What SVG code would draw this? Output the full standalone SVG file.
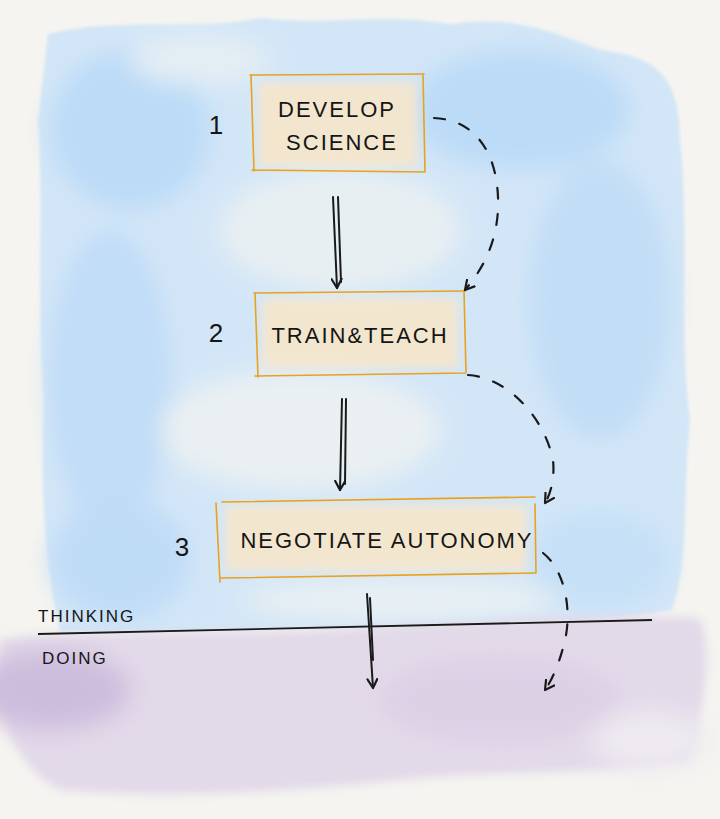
<svg xmlns="http://www.w3.org/2000/svg" width="720" height="819" viewBox="0 0 720 819">
<defs>
<filter id="soft" x="-20%" y="-20%" width="140%" height="140%"><feGaussianBlur stdDeviation="12"/></filter>
<filter id="soft2" x="-20%" y="-20%" width="140%" height="140%"><feGaussianBlur stdDeviation="5"/></filter>
<filter id="edge" x="-5%" y="-5%" width="110%" height="110%"><feGaussianBlur stdDeviation="1.5"/></filter>
<marker id="ah" viewBox="0 0 12 12" refX="10" refY="6" markerWidth="12" markerHeight="12" markerUnits="userSpaceOnUse" orient="auto">
<path d="M1,1 L10,6 L1,11" fill="none" stroke="#1a1a1a" stroke-width="2.2" stroke-linecap="round" stroke-linejoin="round"/>
</marker>
<style>
.box{fill:none;stroke:#e8a21e;stroke-width:1.6;stroke-linecap:round}
.wash{fill:#fbe6c6;opacity:.8}
.lbl{font-family:"Liberation Sans","DejaVu Sans",sans-serif;fill:#151515;font-size:22px;letter-spacing:2px}
.num{font-family:"Liberation Sans","DejaVu Sans",sans-serif;fill:#151515;font-size:26px;font-weight:300}
.ink{fill:none;stroke:#1a1a1a;stroke-width:2;stroke-linecap:round}
.dash{fill:none;stroke:#1a1a1a;stroke-width:2.2;stroke-linecap:round;stroke-dasharray:11 15}
.side{font-family:"Liberation Sans","DejaVu Sans",sans-serif;fill:#151515;font-size:17px;letter-spacing:2px}
</style>
</defs>
<rect width="720" height="819" fill="#f5f4f0"/>
<g id="watercolor">
<path d="M48,34 C120,16 200,32 260,18 C330,26 380,12 450,24 C520,14 560,36 600,50 C650,56 680,70 680,140 C690,230 678,330 690,420 C682,500 690,560 672,610 C600,624 500,618 420,630 C300,626 200,634 60,632 C44,560 40,480 44,400 C36,300 44,200 38,120 Z" fill="#d3e6f7" filter="url(#edge)"/>
<g filter="url(#soft)">
<ellipse cx="130" cy="130" rx="80" ry="80" fill="#bcdbf7"/>
<ellipse cx="520" cy="110" rx="110" ry="60" fill="#bcdbf7"/>
<ellipse cx="600" cy="300" rx="70" ry="140" fill="#c1ddf6"/>
<ellipse cx="110" cy="380" rx="60" ry="150" fill="#c0dcf7"/>
<ellipse cx="120" cy="560" rx="70" ry="60" fill="#bfdcf7"/>
<ellipse cx="600" cy="560" rx="70" ry="50" fill="#c6e0f7"/>
<ellipse cx="340" cy="230" rx="120" ry="60" fill="#e8eff2"/>
<ellipse cx="300" cy="430" rx="140" ry="60" fill="#eaf0f2"/>
<ellipse cx="200" cy="60" rx="70" ry="25" fill="#e4eef4"/>
<ellipse cx="400" cy="600" rx="160" ry="20" fill="#e9f0f3"/>
</g>
<path d="M0,640 C120,628 250,636 360,628 C460,624 560,612 700,618 C715,660 700,720 690,760 C600,776 500,770 400,780 C300,790 180,800 60,790 C20,770 0,720 0,700 Z" fill="#e2d9e9" filter="url(#soft2)"/>
<g filter="url(#soft)">
<ellipse cx="50" cy="690" rx="80" ry="40" fill="#cdbddd"/>
<ellipse cx="500" cy="700" rx="120" ry="40" fill="#dcd0e5"/>
<ellipse cx="650" cy="740" rx="60" ry="30" fill="#eeeaf0"/>
</g>
</g>
<g id="node1">
<rect x="258" y="82" width="160" height="85" class="wash" filter="url(#soft2)"/>
<path class="box" d="M250,75 L424,74 M251,75 L254,171 M423,74 L425,172 M252,170 L425,172"/>
<text x="337" y="117" class="lbl" text-anchor="middle">DEVELOP</text>
<text x="342" y="150" class="lbl" text-anchor="middle">SCIENCE</text>
<text x="216" y="134" class="num" text-anchor="middle">1</text>
</g>
<g id="node2">
<rect x="262" y="298" width="196" height="70" class="wash" filter="url(#soft2)"/>
<path class="box" d="M254,293 L465,291 M255,293 L258,377 M464,291 L466,372 M255,376 L466,373"/>
<text x="360" y="343" class="lbl" text-anchor="middle">TRAIN&amp;TEACH</text>
<text x="216" y="342" class="num" text-anchor="middle">2</text>
</g>
<g id="node3">
<rect x="225" y="505" width="302" height="66" class="wash" filter="url(#soft2)"/>
<path class="box" d="M222,502 L535,497 M216,503 L220,582 M535,504 L536,573 M221,578 L535,573"/>
<text x="387" y="548" class="lbl" text-anchor="middle" letter-spacing="4">NEGOTIATE  AUTONOMY</text>
<text x="182" y="556" class="num" text-anchor="middle">3</text>
</g>
<g id="divider">
<path d="M38,634 L652,620" fill="none" stroke="#1a1a1a" stroke-width="1.8"/>
<text x="38" y="622" class="side">THINKING</text>
<text x="42" y="664" class="side">DOING</text>
</g>
<g id="connectors">
<path class="ink" d="M333,197 L337,288" marker-end="url(#ah)"/>
<path class="ink" d="M338,197 L341,282" stroke-width="1.5"/>
<path class="ink" d="M342,399 L340,490" marker-end="url(#ah)"/>
<path class="ink" d="M346,399 L345,484" stroke-width="1.5"/>
<path class="ink" d="M367,594 L373,688" marker-end="url(#ah)"/>
<path class="ink" d="M370,598 L373,660" stroke-width="1.4"/>
<path class="dash" d="M434,118 C480,120 500,160 498,210 C496,245 482,270 465,290" marker-end="url(#ah)"/>
<path class="dash" d="M468,375 C510,378 545,420 553,460 C555,480 550,495 545,503" marker-end="url(#ah)"/>
<path class="dash" d="M543,553 C565,570 572,610 565,640 C560,662 552,680 545,690" marker-end="url(#ah)"/>
</g>
</svg>
